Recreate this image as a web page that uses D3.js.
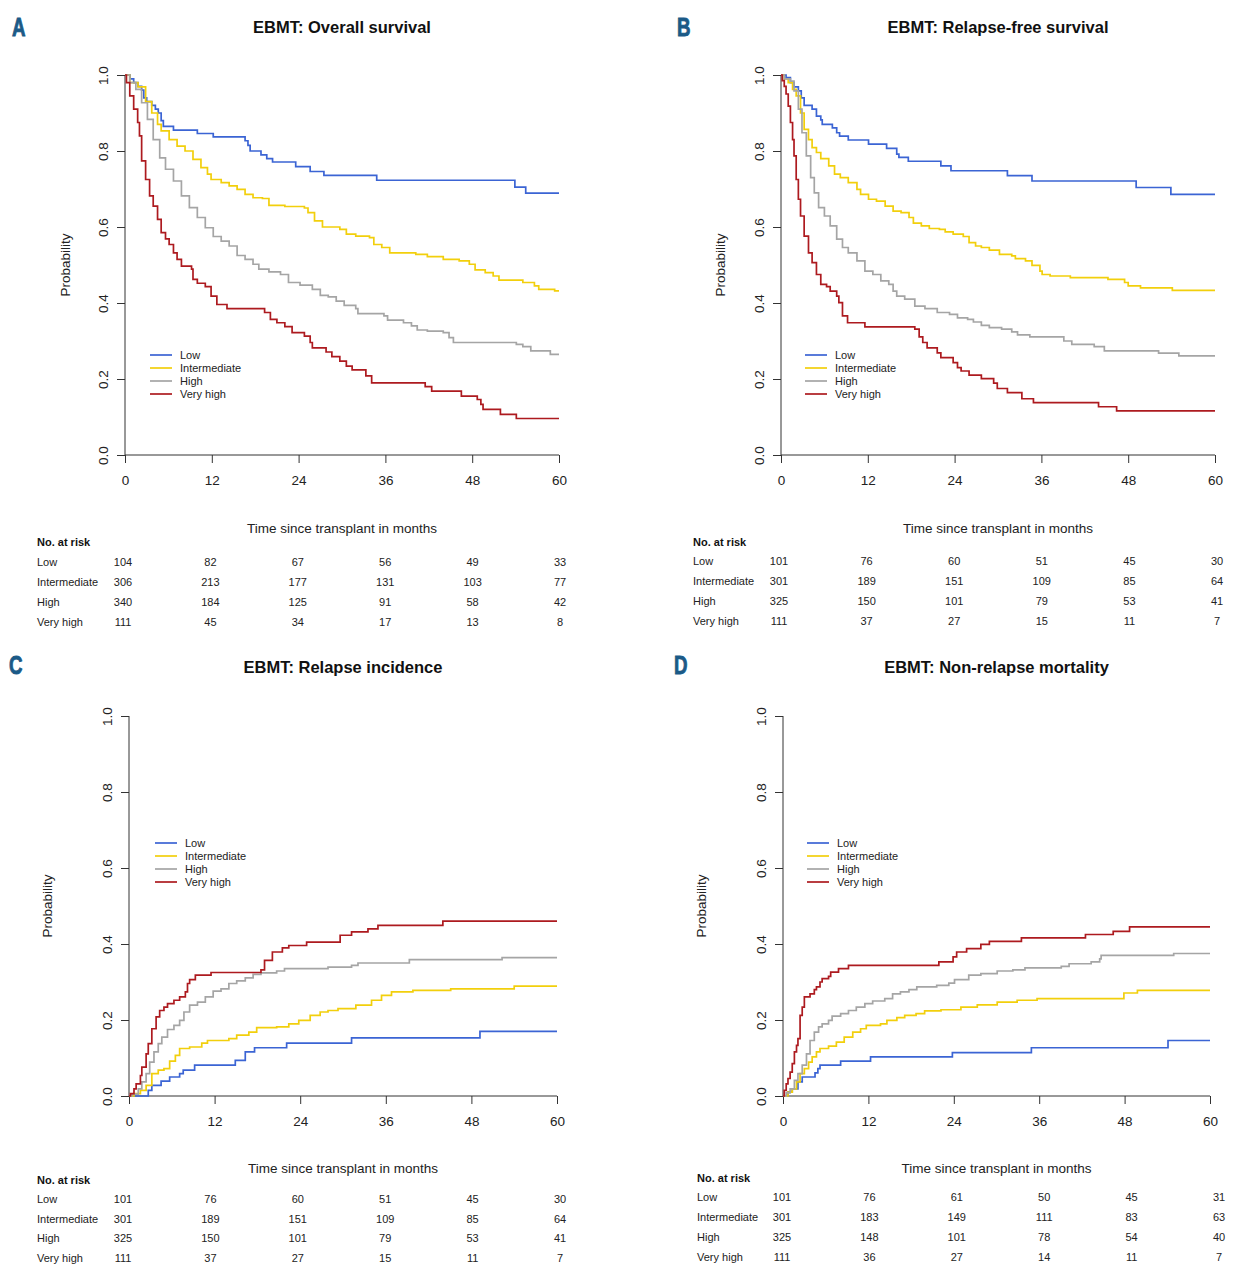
<!DOCTYPE html>
<html lang="en">
<head>
<meta charset="utf-8">
<title>EBMT risk groups</title>
<style>
  html,body{margin:0;background:#fff;}
  svg{display:block;font-family:"Liberation Sans",Arial,Helvetica,sans-serif;}
  .letter{font-family:"Liberation Sans",Arial,sans-serif;font-weight:bold;fill:#1b5a87;stroke:#1b5a87;stroke-width:0.9;}
</style>
</head>
<body>
<div id="chart"></div>
<script src="https://cdn.jsdelivr.net/npm/d3@7"></script>
<script>
// ---- data: [months, probability] step points ----
const groups = ["Low", "Intermediate", "High", "Very high"];
const colors = ["#3b64d4", "#f2cf0c", "#a5a5a5", "#ad1a1f"];
const riskTimes = [0, 12, 24, 36, 48, 60];

// A: overall survival
const osLow = [[0,1],[0.7,0.99],[1.2,0.98],[1.8,0.97],[2.3,0.96],[2.6,0.94],[3.0,0.93],[3.7,0.92],[4.2,0.91],[4.6,0.90],[5.0,0.88],[5.3,0.865],[6.7,0.855],[10.0,0.846],[12.2,0.837],[16.6,0.827],[17.0,0.815],[17.3,0.80],[18.8,0.79],[19.6,0.78],[20.4,0.771],[23.6,0.759],[25.6,0.746],[27.5,0.736],[34.8,0.723],[53.9,0.705],[55.4,0.689],[60,0.689]];
const osInt = [[0,1],[0.66,0.98],[1.8,0.969],[2.85,0.93],[3.7,0.90],[4.5,0.87],[5.0,0.853],[6.1,0.83],[7.2,0.813],[8.3,0.80],[9.4,0.778],[10.5,0.756],[11.4,0.739],[11.9,0.725],[13.3,0.717],[14.4,0.708],[15.5,0.699],[16.6,0.686],[17.7,0.677],[19.0,0.675],[19.9,0.657],[22.1,0.654],[24.8,0.65],[25.3,0.638],[26.2,0.616],[27.3,0.60],[29.7,0.594],[30.6,0.581],[31.9,0.576],[33.8,0.572],[34.4,0.554],[35.5,0.546],[36.6,0.532],[40.2,0.528],[41.8,0.522],[44.0,0.515],[46.2,0.511],[47.6,0.502],[48.4,0.487],[49.8,0.48],[50.9,0.471],[51.7,0.46],[55.0,0.454],[56.6,0.445],[57.2,0.436],[59.4,0.432],[60,0.432]];
const osHigh = [[0,1],[0.66,0.98],[1.5,0.962],[2.3,0.927],[3.1,0.883],[3.9,0.83],[4.8,0.782],[5.6,0.752],[6.7,0.721],[7.8,0.682],[8.9,0.651],[10.0,0.625],[11.1,0.598],[12.2,0.575],[13.3,0.563],[14.4,0.55],[15.5,0.525],[16.6,0.515],[17.7,0.502],[18.5,0.489],[19.9,0.482],[21.5,0.475],[22.6,0.454],[24.2,0.447],[25.9,0.436],[27.0,0.42],[28.1,0.416],[29.2,0.405],[30.3,0.394],[31.9,0.385],[32.2,0.372],[35.8,0.366],[36.3,0.355],[38.5,0.348],[39.6,0.34],[40.4,0.329],[41.8,0.326],[44.0,0.322],[44.8,0.309],[45.4,0.296],[54.1,0.291],[55.0,0.285],[56.1,0.274],[58.8,0.265],[60,0.265]];
const osVeryHigh = [[0,1],[0.2,0.98],[0.66,0.945],[1.2,0.91],[1.75,0.875],[2.0,0.84],[2.3,0.774],[2.85,0.725],[3.4,0.682],[3.9,0.655],[4.5,0.62],[5.0,0.585],[5.6,0.569],[6.1,0.554],[6.7,0.532],[7.2,0.515],[7.8,0.497],[9.2,0.489],[9.4,0.462],[10.0,0.452],[11.1,0.443],[11.9,0.418],[12.7,0.396],[14.1,0.385],[19.3,0.375],[20.1,0.357],[21.0,0.348],[22.1,0.338],[23.1,0.322],[24.8,0.313],[25.6,0.296],[25.9,0.282],[27.8,0.271],[28.6,0.259],[29.7,0.247],[30.6,0.234],[31.4,0.224],[33.3,0.208],[34.1,0.19],[41.5,0.18],[42.4,0.168],[46.5,0.155],[48.7,0.146],[49.2,0.133],[49.5,0.12],[51.9,0.107],[54.1,0.096],[60,0.096]];

// B: relapse-free survival
const rfsLow = [[0,1],[0.7,0.993],[1.3,0.98],[1.8,0.969],[2.4,0.958],[2.8,0.94],[3.2,0.92],[4.3,0.91],[4.9,0.892],[5.5,0.882],[5.7,0.87],[7.1,0.861],[7.7,0.848],[8.1,0.839],[9.3,0.829],[12.1,0.818],[14.6,0.807],[16.0,0.792],[16.3,0.783],[17.6,0.773],[22.1,0.761],[23.5,0.748],[31.3,0.735],[34.7,0.721],[49.1,0.704],[53.9,0.686],[60,0.686]];
const rfsInt = [[0,1],[0.45,0.99],[1.0,0.98],[1.6,0.962],[2.1,0.945],[2.7,0.90],[3.2,0.857],[3.8,0.83],[4.3,0.809],[4.9,0.796],[5.5,0.78],[6.6,0.761],[7.4,0.739],[8.2,0.73],[9.3,0.717],[10.5,0.699],[11.0,0.686],[12.1,0.673],[13.2,0.668],[14.4,0.655],[15.5,0.642],[16.6,0.638],[17.7,0.625],[18.3,0.61],[19.4,0.603],[20.5,0.596],[21.9,0.594],[22.7,0.587],[23.8,0.581],[25.2,0.575],[26.0,0.559],[26.9,0.55],[27.7,0.546],[28.8,0.539],[30.2,0.528],[31.9,0.524],[32.4,0.517],[33.8,0.511],[34.7,0.499],[35.8,0.484],[36.1,0.475],[37.2,0.471],[40.0,0.467],[45.2,0.462],[47.5,0.454],[48.0,0.445],[49.7,0.44],[54.1,0.433],[60,0.433]];
const rfsHigh = [[0,1],[0.45,0.99],[1.3,0.984],[1.8,0.958],[2.4,0.91],[2.9,0.848],[3.5,0.787],[4.1,0.73],[4.6,0.69],[5.2,0.651],[6.0,0.629],[6.8,0.603],[7.7,0.568],[8.5,0.546],[9.3,0.532],[10.5,0.511],[11.6,0.484],[12.7,0.475],[13.8,0.458],[14.9,0.449],[15.5,0.431],[16.0,0.418],[17.1,0.41],[18.5,0.392],[19.9,0.385],[21.6,0.375],[23.3,0.37],[24.4,0.361],[25.8,0.357],[26.6,0.35],[27.7,0.341],[28.8,0.335],[30.5,0.331],[31.9,0.324],[32.7,0.316],[34.4,0.311],[39.1,0.30],[40.2,0.291],[43.3,0.285],[44.7,0.274],[52.2,0.268],[55.0,0.261],[60,0.261]];
const rfsVeryHigh = [[0,1],[0.17,0.985],[0.45,0.97],[0.7,0.95],[1.0,0.918],[1.3,0.875],[1.6,0.83],[1.8,0.787],[2.1,0.725],[2.4,0.673],[2.7,0.629],[3.2,0.576],[3.8,0.532],[4.3,0.506],[4.9,0.475],[5.5,0.449],[6.3,0.443],[6.8,0.431],[7.7,0.418],[8.0,0.401],[8.5,0.366],[9.2,0.348],[11.6,0.337],[18.5,0.331],[19.1,0.311],[19.6,0.296],[20.2,0.282],[21.6,0.269],[22.1,0.256],[23.8,0.243],[24.4,0.23],[24.9,0.221],[26.0,0.21],[27.7,0.201],[29.4,0.189],[29.9,0.175],[31.3,0.164],[33.3,0.148],[34.9,0.138],[43.9,0.127],[46.4,0.116],[60,0.116]];

// C: relapse incidence
const riLow = [[0,0],[2.7,0.015],[3.2,0.028],[4.5,0.039],[5.7,0.05],[7.1,0.059],[7.6,0.068],[9.2,0.081],[14.9,0.094],[16.3,0.116],[17.6,0.127],[22.1,0.139],[31.2,0.153],[49.2,0.17],[60,0.17]];
const riInt = [[0,0],[0.7,0.006],[1.6,0.015],[2.4,0.028],[3.2,0.059],[4.1,0.068],[4.9,0.072],[5.7,0.092],[6.5,0.107],[7.1,0.125],[8.5,0.129],[10.2,0.139],[11.0,0.146],[14.0,0.151],[15.1,0.16],[16.8,0.168],[17.9,0.18],[20.7,0.182],[22.4,0.19],[23.8,0.199],[25.4,0.212],[26.8,0.221],[27.9,0.225],[29.3,0.23],[31.8,0.239],[34.0,0.252],[35.4,0.265],[36.8,0.274],[39.8,0.278],[45.1,0.282],[54.0,0.289],[60,0.289]];
const riHigh = [[0,0],[0.4,0.005],[1.3,0.019],[1.8,0.037],[2.4,0.059],[2.9,0.089],[3.5,0.116],[4.1,0.138],[4.6,0.155],[5.4,0.175],[6.3,0.186],[7.1,0.199],[7.7,0.221],[8.5,0.239],[9.6,0.247],[10.7,0.261],[11.8,0.276],[12.9,0.282],[14.0,0.296],[15.1,0.303],[16.3,0.311],[17.4,0.32],[18.5,0.324],[20.7,0.329],[21.8,0.335],[27.9,0.339],[31.2,0.344],[32.1,0.35],[39.3,0.359],[52.3,0.364],[60,0.364]];
const riVeryHigh = [[0,0],[0.2,0.006],[0.7,0.019],[1.0,0.032],[1.6,0.054],[1.8,0.076],[2.4,0.111],[2.7,0.138],[3.2,0.177],[3.8,0.208],[4.3,0.225],[4.9,0.234],[5.4,0.243],[6.3,0.252],[7.1,0.261],[7.9,0.274],[8.2,0.296],[8.5,0.306],[9.3,0.318],[11.5,0.325],[18.5,0.332],[19.0,0.357],[20.1,0.379],[21.5,0.39],[22.4,0.396],[24.9,0.405],[29.6,0.423],[31.2,0.432],[33.5,0.44],[34.9,0.449],[44.0,0.46],[60,0.46]];

// D: non-relapse mortality
const nrmLow = [[0,0],[0.7,0.011],[1.3,0.019],[2.1,0.037],[2.7,0.05],[4.5,0.061],[4.9,0.072],[5.2,0.081],[8.1,0.092],[12.3,0.103],[23.8,0.114],[34.9,0.127],[54.1,0.146],[60,0.146]];
const nrmInt = [[0,0],[0.7,0.01],[1.3,0.019],[1.9,0.037],[2.4,0.059],[3.0,0.072],[3.6,0.089],[4.1,0.103],[4.7,0.116],[5.2,0.125],[6.4,0.131],[7.5,0.142],[8.6,0.155],[9.8,0.168],[10.9,0.177],[11.7,0.186],[13.7,0.19],[14.6,0.199],[16.0,0.206],[17.1,0.212],[18.7,0.217],[19.9,0.224],[22.2,0.227],[25.0,0.234],[27.3,0.24],[30.1,0.247],[32.9,0.252],[35.7,0.256],[47.9,0.271],[49.8,0.278],[60,0.278]];
const nrmHigh = [[0,0],[0.45,0.008],[1.0,0.019],[1.6,0.041],[2.1,0.059],[2.7,0.081],[3.3,0.111],[3.8,0.146],[4.4,0.168],[5.0,0.182],[5.5,0.19],[6.4,0.199],[6.9,0.21],[8.1,0.217],[9.2,0.225],[10.3,0.234],[11.5,0.243],[12.6,0.25],[14.3,0.256],[15.4,0.269],[16.5,0.274],[17.7,0.28],[18.8,0.287],[21.6,0.291],[23.3,0.297],[24.1,0.306],[26.1,0.318],[27.8,0.322],[30.1,0.329],[32.3,0.332],[34.0,0.337],[39.1,0.341],[40.2,0.348],[43.3,0.353],[44.5,0.361],[44.7,0.37],[54.9,0.375],[60,0.375]];
const nrmVeryHigh = [[0,0],[0.17,0.015],[0.45,0.032],[0.7,0.046],[1.0,0.063],[1.3,0.085],[1.6,0.116],[1.9,0.133],[2.1,0.151],[2.4,0.212],[2.7,0.234],[3.0,0.261],[3.8,0.269],[4.4,0.28],[4.7,0.287],[5.2,0.30],[5.5,0.309],[6.4,0.315],[6.7,0.326],[7.8,0.335],[9.2,0.344],[21.9,0.353],[23.9,0.366],[24.4,0.379],[25.8,0.388],[27.8,0.399],[29.0,0.407],[33.5,0.416],[42.5,0.425],[46.4,0.433],[48.7,0.445],[60,0.445]];

// numbers at risk
const osRisk = [[104,82,67,56,49,33],[306,213,177,131,103,77],[340,184,125,91,58,42],[111,45,34,17,13,8]];
const rfsRisk = [[101,76,60,51,45,30],[301,189,151,109,85,64],[325,150,101,79,53,41],[111,37,27,15,11,7]];
const riRisk = [[101,76,60,51,45,30],[301,189,151,109,85,64],[325,150,101,79,53,41],[111,37,27,15,11,7]];
const nrmRisk = [[101,76,61,50,45,31],[301,183,149,111,83,63],[325,148,101,78,54,40],[111,36,27,14,11,7]];

// ---- layout ----
const W = 1250, H = 1280;
const svg = d3.select("#chart").append("svg").attr("width", W).attr("height", H);

const panels = [
  {letter:"A", lx:12, ly:36, title:"EBMT: Overall survival", series:[osLow,osInt,osHigh,osVeryHigh], risk:osRisk,
   x0:125, x1:559, top:75, bot:455, titleY:33, ylabX:70, legX:150, legY:355, xTitleY:533,
   tabX:37, tabHeadY:546, tabRow0:566, tabStep:20, tab0:123, tab60:560},
  {letter:"B", lx:677, ly:36, title:"EBMT: Relapse-free survival", series:[rfsLow,rfsInt,rfsHigh,rfsVeryHigh], risk:rfsRisk,
   x0:781, x1:1215, top:75, bot:455, titleY:33, ylabX:725, legX:805, legY:355, xTitleY:533,
   tabX:693, tabHeadY:546, tabRow0:565, tabStep:20, tab0:779, tab60:1217},
  {letter:"C", lx:9, ly:674, title:"EBMT: Relapse incidence", series:[riLow,riInt,riHigh,riVeryHigh], risk:riRisk,
   x0:129, x1:557, top:716, bot:1096, titleY:673, ylabX:52, legX:155, legY:843, xTitleY:1173,
   tabX:37, tabHeadY:1184, tabRow0:1203, tabStep:19.7, tab0:123, tab60:560},
  {letter:"D", lx:674, ly:674, title:"EBMT: Non-relapse mortality", series:[nrmLow,nrmInt,nrmHigh,nrmVeryHigh], risk:nrmRisk,
   x0:783, x1:1210, top:716, bot:1096, titleY:673, ylabX:706, legX:807, legY:843, xTitleY:1173,
   tabX:697, tabHeadY:1182, tabRow0:1201, tabStep:20, tab0:782, tab60:1219}
];

panels.forEach(p => {
  const g = svg.append("g");
  const x = d3.scaleLinear().domain([0, 60]).range([p.x0, p.x1]);
  const y = d3.scaleLinear().domain([0, 1]).range([p.bot, p.top]);
  const cx = (p.x0 + p.x1) / 2;

  // narrow bold panel letter
  g.append("text").attr("class", "letter")
    .attr("transform", `translate(${p.lx},${p.ly}) scale(0.72,1)`)
    .attr("font-size", 26).text(p.letter);
  g.append("text").attr("x", cx).attr("y", p.titleY).attr("text-anchor", "middle")
    .attr("font-weight", "bold").attr("font-size", 16.5).attr("fill", "#111").text(p.title);

  // axes
  const xa = g.append("g").attr("transform", `translate(0,${p.bot})`)
    .call(d3.axisBottom(x).tickValues(riskTimes).tickSize(8).tickPadding(12));
  const ya = g.append("g").attr("transform", `translate(${p.x0},0)`)
    .call(d3.axisLeft(y).tickValues([0, 0.2, 0.4, 0.6, 0.8, 1]).tickSize(8).tickFormat(d3.format(".1f")));
  [xa, ya].forEach(a => {
    a.select(".domain").attr("stroke", "#333");
    a.selectAll(".tick line").attr("stroke", "#333");
    a.selectAll("text").attr("font-size", 13.5).attr("fill", "#222")
      .attr("font-family", "Liberation Sans, Arial, sans-serif");
  });
  xa.select(".domain").attr("d", `M${p.x0},0H${p.x1}`);
  ya.select(".domain").attr("d", `M0,${p.top}V${p.bot}`);
  ya.selectAll(".tick text")
    .attr("x", null).attr("dy", null).attr("text-anchor", "middle")
    .attr("transform", "translate(-22,0) rotate(-90)").attr("dy", "0.35em");

  g.append("text").attr("transform", `translate(${p.ylabX},${(p.top + p.bot) / 2}) rotate(-90)`)
    .attr("text-anchor", "middle").attr("font-size", 13.5).attr("fill", "#222").text("Probability");
  g.append("text").attr("x", cx).attr("y", p.xTitleY).attr("text-anchor", "middle")
    .attr("font-size", 13.5).attr("fill", "#222").text("Time since transplant in months");

  // curves
  const line = d3.line().x(d => x(d[0])).y(d => y(d[1])).curve(d3.curveStepAfter);
  p.series.forEach((s, i) => {
    g.append("path").datum(s).attr("d", line).attr("fill", "none")
      .attr("stroke", colors[i]).attr("stroke-width", 1.7);
  });

  // legend
  groups.forEach((name, i) => {
    const ly = p.legY + i * 13;
    g.append("line").attr("x1", p.legX).attr("x2", p.legX + 22).attr("y1", ly).attr("y2", ly)
      .attr("stroke", colors[i]).attr("stroke-width", 1.7);
    g.append("text").attr("x", p.legX + 30).attr("y", ly).attr("dy", "0.35em")
      .attr("font-size", 11).attr("fill", "#222").text(name);
  });

  // numbers at risk
  const tx = d3.scaleLinear().domain([0, 60]).range([p.tab0, p.tab60]);
  g.append("text").attr("x", p.tabX).attr("y", p.tabHeadY).attr("font-size", 11)
    .attr("font-weight", "bold").attr("fill", "#111").text("No. at risk");
  p.risk.forEach((row, i) => {
    const ry = p.tabRow0 + i * p.tabStep;
    g.append("text").attr("x", p.tabX).attr("y", ry).attr("font-size", 11).attr("fill", "#222").text(groups[i]);
    row.forEach((v, j) => {
      g.append("text").attr("x", tx(riskTimes[j])).attr("y", ry).attr("text-anchor", "middle")
        .attr("font-size", 11).attr("fill", "#222").text(v);
    });
  });
});
</script>
</body>
</html>
